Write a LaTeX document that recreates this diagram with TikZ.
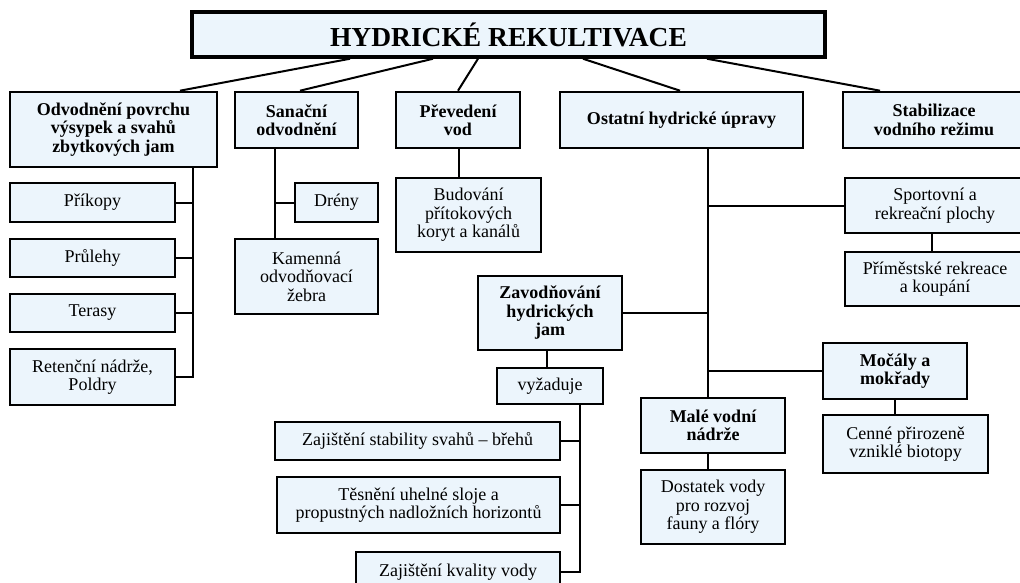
\documentclass[tikz,border=0pt]{standalone}
\usepackage{fontspec}
\setmainfont{Liberation Serif}
\definecolor{boxfill}{RGB}{236,245,252}
\newcommand\bxfont{\fontsize{18}{18.5}\selectfont}
\newcommand\ttlfont{\fontsize{27.5}{29}\selectfont\bfseries}
\tikzset{
  box/.style={draw=black, line width=2.6pt, fill=boxfill, align=center, inner sep=0pt, font=\bxfont},
  bbox/.style={box, font=\bxfont\bfseries},
  conn/.style={draw=black, line width=2pt},
}
\begin{document}
\begin{tikzpicture}[x=1pt,y=-1pt]
\useasboundingbox (0,0) rectangle (1020,583);
% title
\node[box, line width=3.5pt, font=\ttlfont, minimum width=633pt, minimum height=45pt] (title) at (508.5,34.5) {HYDRICKÉ REKULTIVACE};
% level 1
\node[bbox, minimum width=207pt, minimum height=75pt] (A) at (113.5,129.5) {Odvodnění povrchu\\výsypek a svahů\\zbytkových jam};
\node[bbox, minimum width=123pt, minimum height=56pt] (B) at (296.5,120) {Sanační\\odvodnění};
\node[bbox, minimum width=124pt, minimum height=56pt] (C) at (458,120) {Převedení\\vod};
\node[bbox, minimum width=243pt, minimum height=56pt] (D) at (681.5,120) {Ostatní hydrické úpravy};
\node[bbox, minimum width=182pt, minimum height=56pt] (E) at (934,120) {Stabilizace\\vodního režimu};
% column A
\node[box, minimum width=165pt, minimum height=39pt] (A1) at (92.5,202.5) {Příkopy};
\node[box, minimum width=165pt, minimum height=38pt] (A2) at (92.5,258) {Průlehy};
\node[box, minimum width=165pt, minimum height=38pt] (A3) at (92.5,313) {Terasy};
\node[box, minimum width=165pt, minimum height=56pt] (A4) at (92.5,377) {Retenční nádrže,\\Poldry};
% column B
\node[box, minimum width=83pt, minimum height=39pt] (B1) at (336.5,202.5) {Drény};
\node[box, minimum width=143pt, minimum height=75pt] (B2) at (306.5,276.5) {Kamenná\\odvodňovací\\žebra};
% column C
\node[box, minimum width=145pt, minimum height=74pt] (C1) at (468.5,215) {Budování\\přítokových\\koryt a kanálů};
% column D
\node[box, minimum width=180pt, minimum height=55pt] (D1) at (935,205.5) {Sportovní a\\rekreační plochy};
\node[box, minimum width=180pt, minimum height=54pt] (D1a) at (935,279) {Příměstské rekreace\\a koupání};
\node[bbox, minimum width=144pt, minimum height=74pt] (D2) at (550,313) {Zavodňování\\hydrických\\jam};
\node[box, minimum width=106pt, minimum height=36pt] (D2a) at (550,386) {vyžaduje};
\node[box, minimum width=285pt, minimum height=38pt] (R1) at (417.5,441) {Zajištění stability svahů – břehů};
\node[box, minimum width=283pt, minimum height=56pt] (R2) at (418.5,505) {Těsnění uhelné sloje a\\propustných nadložních horizontů};
\node[box, minimum width=204pt, minimum height=40pt] (R3) at (458,572) {Zajištění kvality vody};
\node[bbox, minimum width=144pt, minimum height=56pt] (D3) at (895,371) {Močály a\\mokřady};
\node[box, minimum width=165pt, minimum height=58pt] (D3a) at (905.5,444) {Cenné přirozeně\\vzniklé biotopy};
\node[bbox, minimum width=144pt, minimum height=55pt] (D4) at (713,425.5) {Malé vodní\\nádrže};
\node[box, minimum width=144pt, minimum height=74pt] (D4a) at (713,507) {Dostatek vody\\pro rozvoj\\fauny a flóry};
% connectors from title
\draw[conn] (350,0 |- title.south) -- (180,0 |- A.north);
\draw[conn] (433,0 |- title.south) -- (300,0 |- B.north);
\draw[conn] (478,0 |- title.south) -- (458,0 |- C.north);
\draw[conn] (583,0 |- title.south) -- (680,0 |- D.north);
\draw[conn] (707,0 |- title.south) -- (880,0 |- E.north);
% A spine
\draw[conn] (193,0 |- A.south) |- (A4.east);
\draw[conn] (A1.east) -- (193,0 |- A1.east);
\draw[conn] (A2.east) -- (193,0 |- A2.east);
\draw[conn] (A3.east) -- (193,0 |- A3.east);
% B spine
\draw[conn] (275,0 |- B.south) -- (275,0 |- B2.north);
\draw[conn] (B1.west) -- (275,0 |- B1.west);
% C
\draw[conn] (459,0 |- C.south) -- (459,0 |- C1.north);
% D spine
\draw[conn] (708,0 |- D.south) -- (708,0 |- D4.north);
\draw[conn] (D1.west) -- (708,0 |- D1.west);
\draw[conn] (D2.east) -- (708,0 |- D2.east);
\draw[conn] (D3.west) -- (708,0 |- D3.west);
\draw[conn] (932,0 |- D1.south) -- (932,0 |- D1a.north);
\draw[conn] (547,0 |- D2.south) -- (547,0 |- D2a.north);
\draw[conn] (580,0 |- D2a.south) |- (R3.east);
\draw[conn] (R1.east) -- (580,0 |- R1.east);
\draw[conn] (R2.east) -- (580,0 |- R2.east);
\draw[conn] (895,0 |- D3.south) -- (895,0 |- D3a.north);
\draw[conn] (708,0 |- D4.south) -- (708,0 |- D4a.north);
\end{tikzpicture}
\end{document}
